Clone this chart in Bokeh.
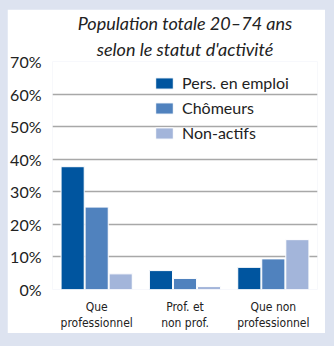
from bokeh.plotting import figure
from bokeh.models import (ColumnDataSource, FactorRange, FixedTicker, Legend, LegendItem, Title)
from bokeh.layouts import column
from bokeh.transform import dodge
from bokeh.embed import file_html
from bokeh.resources import INLINE

categories = ["Que\nprofessionnel", "Prof. et\nnon prof.", "Que non\nprofessionnel"]
series_names = ["Pers. en emploi", "Chômeurs", "Non-actifs"]
emploi = [37.7, 5.8, 6.8]
chomeurs = [25.3, 3.4, 9.4]
non_actifs = [4.8, 0.9, 15.3]
y_ticks = [0, 10, 20, 30, 40, 50, 60, 70]
tick_labels = ["0%", "10%", "20%", "30%", "40%", "50%", "60%", "70%"]
title_lines = ["Population totale 20–74 ans", "selon le statut d'activité"]

colors = ["#00559f", "#5082be", "#a3b5da"]
FONT = "Lato"
CAT_FONT = "DejaVu Sans Condensed"

src = ColumnDataSource(dict(cat=categories, emploi=emploi, chomeurs=chomeurs,
                            non_actifs=non_actifs))

p = figure(width=318, height=324, x_range=FactorRange(*categories), y_range=(0, 70),
           output_backend="svg", toolbar_location=None,
           min_border_left=42, min_border_right=8, min_border_top=52, min_border_bottom=44)
p.border_fill_color = "white"
p.background_fill_color = "white"
p.outline_line_color = None

step = 0.272
w = 0.262
renderers = []
for col, off, c in zip(["emploi", "chomeurs", "non_actifs"], [-step, 0, step], colors):
    r = p.vbar(x=dodge("cat", off, range=p.x_range), top=col, width=w, source=src,
               fill_color=c, line_color="white", line_width=1)
    renderers.append(r)

# axes
p.yaxis.ticker = FixedTicker(ticks=y_ticks)
p.yaxis.major_label_overrides = {t: l for t, l in zip(y_ticks, tick_labels)}
p.yaxis.axis_line_color = None
p.yaxis.major_tick_line_color = None
p.yaxis.minor_tick_line_color = None
p.yaxis.major_label_standoff = 5
p.yaxis.major_label_text_font = FONT
p.yaxis.major_label_text_font_size = "16px"
p.yaxis.major_label_text_color = "#222222"

p.xaxis.axis_line_color = None
p.xaxis.major_tick_line_color = None
p.xaxis.major_label_standoff = 4
p.xaxis.major_label_text_font = CAT_FONT
p.xaxis.major_label_text_font_size = "12px"
p.xaxis.major_label_text_color = "#222222"

p.xgrid.grid_line_color = None
p.ygrid.grid_line_color = "#a8a8a8"
p.ygrid.grid_line_width = 1.5

legend = Legend(items=[LegendItem(label=n, renderers=[r]) for n, r in zip(series_names, renderers)],
                location=(101, 147))
legend.background_fill_alpha = 0
legend.border_line_alpha = 0
legend.padding = 0
legend.margin = 0
legend.spacing = 6
legend.glyph_width = 22
legend.glyph_height = 14
legend.label_standoff = 7
legend.label_text_font = FONT
legend.label_text_font_size = "16px"
legend.label_text_color = "#222222"
p.add_layout(legend, "center")

# two-line title, each line centred
title_style = dict(align="center", offset=-17, text_font=FONT, text_font_style="italic",
                   text_font_size="18px", text_color="#222222")
p.title = Title(text=title_lines[0], standoff=0, text_line_height=1.0, **title_style)
p.add_layout(Title(text=title_lines[1], standoff=4, text_line_height=0.8, **title_style), "above")

layout = column(p, styles={"background-color": "#dde3f0", "padding": "9px 9px 13px 7px"})

open("out.html", "w").write(file_html(layout, INLINE))
